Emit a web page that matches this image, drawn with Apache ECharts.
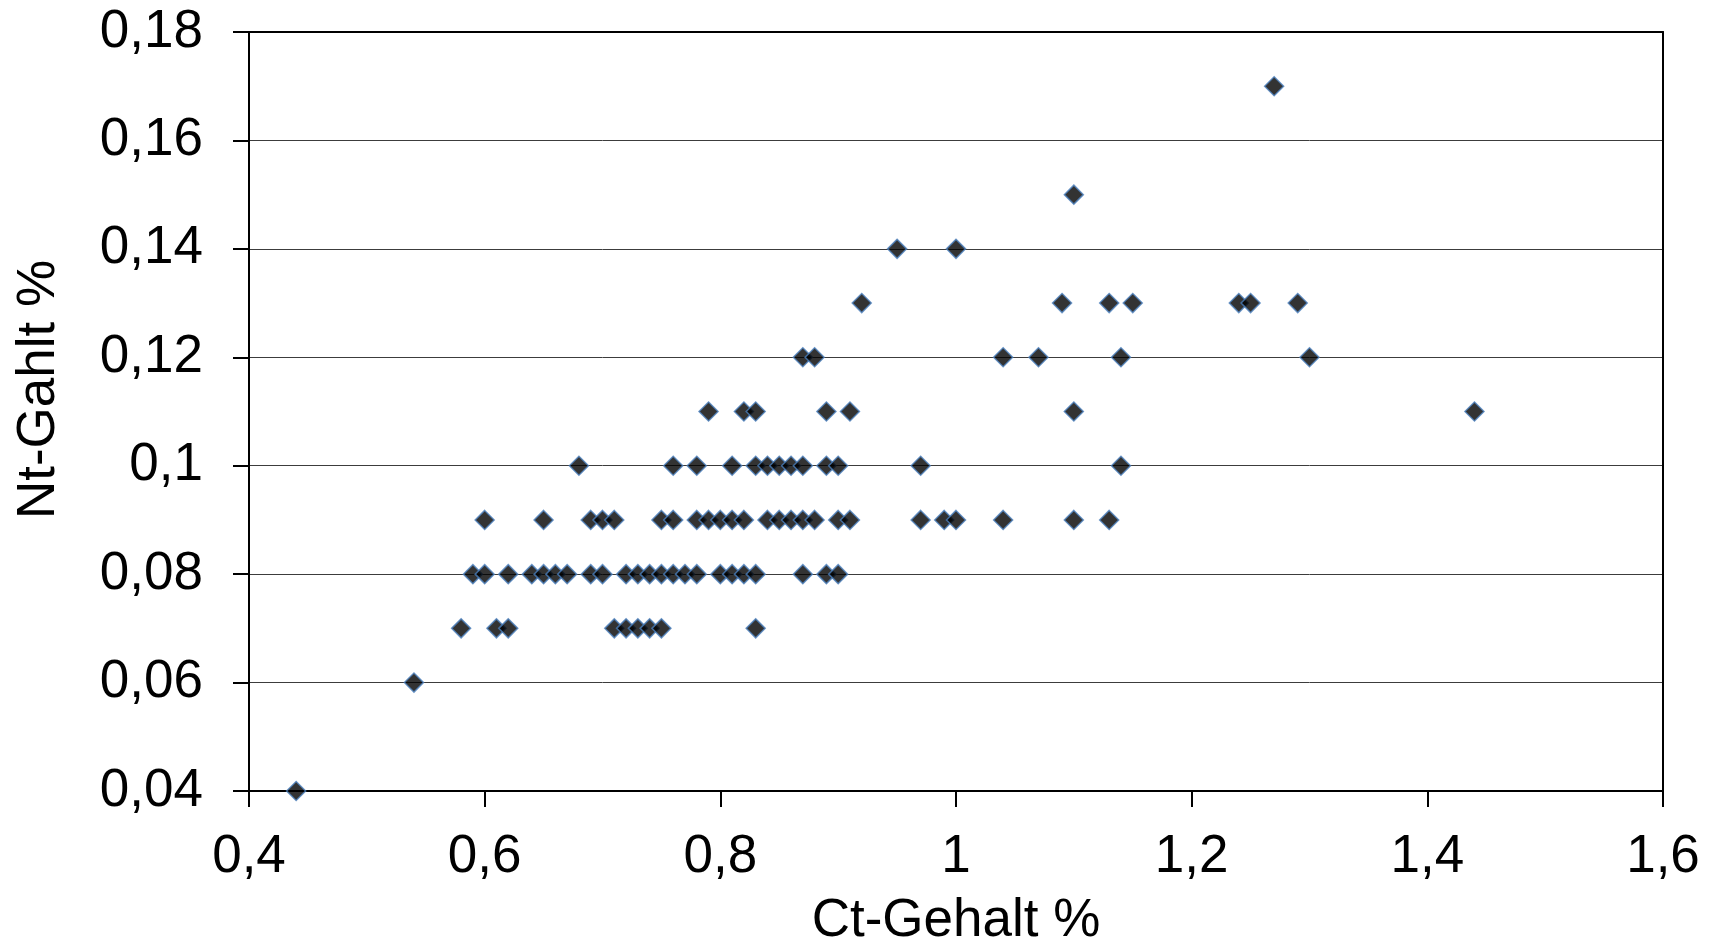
<!DOCTYPE html>
<html>
<head>
<meta charset="utf-8">
<title>Ct / Nt</title>
<script src="https://cdn.jsdelivr.net/npm/echarts@6/dist/echarts.min.js"></script>
<style>
	html, body {
		margin: 0;
		padding: 0;
		background: #fff;
	}
	#chart {
		width: 1713px;
		height: 946px;
	}
</style>
</head>
<body>
<div id="chart"></div>
<script>
// Ct-Gehalt values, grouped by the Nt level they sit on
var ct004 = [0.44];
var ct006 = [0.54];
var ct007 = [0.58, 0.61, 0.62, 0.71, 0.72, 0.73, 0.74, 0.75, 0.83];
var ct008 = [0.59, 0.60, 0.62, 0.64, 0.65, 0.66, 0.67, 0.69, 0.70, 0.72, 0.73, 0.74, 0.75, 0.76, 0.77, 0.78, 0.80, 0.81, 0.82, 0.83, 0.87, 0.89, 0.90];
var ct009 = [0.60, 0.65, 0.69, 0.70, 0.71, 0.75, 0.76, 0.78, 0.79, 0.80, 0.81, 0.82, 0.84, 0.85, 0.86, 0.87, 0.88, 0.90, 0.91, 0.97, 0.99, 1.00, 1.04, 1.10, 1.13];
var ct010 = [0.68, 0.76, 0.78, 0.81, 0.83, 0.84, 0.85, 0.86, 0.87, 0.89, 0.90, 0.97, 1.14];
var ct011 = [0.79, 0.82, 0.83, 0.89, 0.91, 1.10, 1.44];
var ct012 = [0.87, 0.88, 1.04, 1.07, 1.14, 1.30];
var ct013 = [0.92, 1.09, 1.13, 1.15, 1.24, 1.25, 1.29];
var ct014 = [0.95, 1.00];
var ct015 = [1.10];
var ct017 = [1.27];

var ntLevels = [0.04, 0.06, 0.07, 0.08, 0.09, 0.10, 0.11, 0.12, 0.13, 0.14, 0.15, 0.17];
var ctGroups = [ct004, ct006, ct007, ct008, ct009, ct010, ct011, ct012, ct013, ct014, ct015, ct017];

var xTicks = {min: 0.4, max: 1.6, step: 0.2};
var yTicks = {min: 0.04, max: 0.18, step: 0.02};

var points = [];
ctGroups.forEach(function (group, i) {
	group.forEach(function (c) {
		points.push([c, ntLevels[i]]);
	});
});

function deComma(v, digits) {
	var s = String(parseFloat(v.toFixed(digits)));
	return s.replace('.', ',');
}

var font = 'Liberation Sans, Arial, sans-serif';
var frameAxis = {
	axisLine: {show: true, lineStyle: {color: '#000', width: 2}},
	axisTick: {show: false},
	axisLabel: {show: false},
	splitLine: {show: false}
};

var myChart = echarts.init(document.getElementById('chart'));
var option = {
	animation: false,
	backgroundColor: '#fff',
	grid: {
		left: 249,
		right: 50,
		top: 32,
		bottom: 155,
		outerBoundsMode: 'none'
	},
	xAxis: [
		{
			type: 'value',
			min: xTicks.min,
			max: xTicks.max,
			interval: xTicks.step,
			name: 'Ct-Gehalt %',
			nameLocation: 'middle',
			nameGap: 104,
			nameTextStyle: {fontFamily: font, fontSize: 53, color: '#000'},
			axisLine: {lineStyle: {color: '#000', width: 2}},
			axisTick: {show: true, inside: false, length: 16, lineStyle: {color: '#000', width: 2}},
			axisLabel: {
				fontFamily: font,
				fontSize: 53,
				color: '#000',
				margin: 40,
				formatter: function (v) { return deComma(v, 1); }
			},
			splitLine: {show: false}
		},
		Object.assign({type: 'value', position: 'top', min: xTicks.min, max: xTicks.max}, frameAxis)
	],
	yAxis: [
		{
			type: 'value',
			min: yTicks.min,
			max: yTicks.max,
			interval: yTicks.step,
			name: 'Nt-Gahlt %',
			nameLocation: 'middle',
			nameRotate: 90,
			nameGap: 183,
			nameTextStyle: {fontFamily: font, fontSize: 53, color: '#000', padding: [0, 0, 0, 44]},
			axisLine: {show: true, lineStyle: {color: '#000', width: 2}},
			axisTick: {show: true, inside: false, length: 16, lineStyle: {color: '#000', width: 2}},
			axisLabel: {
				fontFamily: font,
				fontSize: 53,
				color: '#000',
				margin: 46,
				formatter: function (v) { return deComma(v, 2); }
			},
			splitLine: {show: true, lineStyle: {color: '#3c3c3c', width: 1}}
		},
		Object.assign({type: 'value', position: 'right', min: yTicks.min, max: yTicks.max}, frameAxis)
	],
	series: [
		{
			name: 'Nt',
			type: 'scatter',
			symbol: 'diamond',
			symbolSize: 19,
			clip: false,
			itemStyle: {
				color: '#000',
				borderColor: '#4a7ebb',
				borderWidth: 1.5
			},
			data: points
		}
	]
};
myChart.setOption(option);
</script>
</body>
</html>
